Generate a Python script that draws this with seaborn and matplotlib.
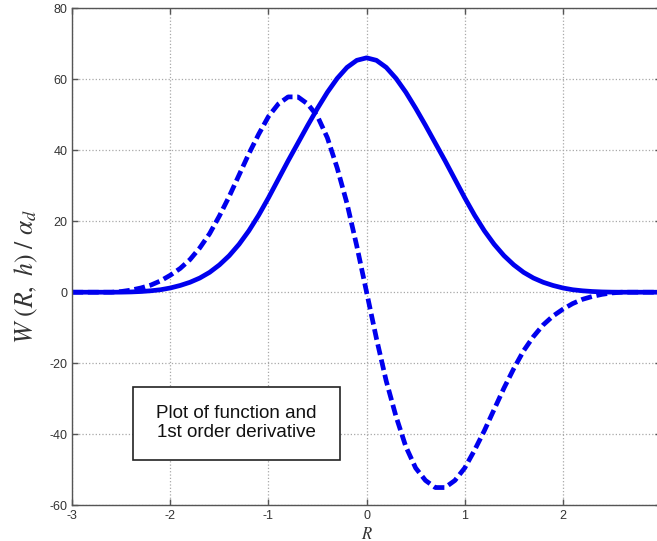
import numpy as np
import pandas as pd
import matplotlib
matplotlib.use('Agg')
import matplotlib.pyplot as plt
from matplotlib.patches import Rectangle
import seaborn as sns

# sample positions along R (read every 0.1)
r = [-3.0, -2.9, -2.8, -2.7, -2.6, -2.5, -2.4, -2.3, -2.2, -2.1,
     -2.0, -1.9, -1.8, -1.7, -1.6, -1.5, -1.4, -1.3, -1.2, -1.1,
     -1.0, -0.9, -0.8, -0.7, -0.6, -0.5, -0.4, -0.3, -0.2, -0.1,
     0.0, 0.1, 0.2, 0.3, 0.4, 0.5, 0.6, 0.7, 0.8, 0.9,
     1.0, 1.1, 1.2, 1.3, 1.4, 1.5, 1.6, 1.7, 1.8, 1.9,
     2.0, 2.1, 2.2, 2.3, 2.4, 2.5, 2.6, 2.7, 2.8, 2.9, 3.0]

# kernel W(R,h)/alpha_d, solid line
w_func = [0, 0, 0, 0, 0, 0.02, 0.08, 0.2, 0.4, 0.7,
          1.2, 1.9, 2.8, 4.0, 5.6, 7.7, 10.3, 13.5, 17.3, 21.7,
          26.6, 31.8, 37.0, 42.0, 47.0, 51.8, 56.3, 60.2, 63.3, 65.3,
          66, 65.3, 63.3, 60.2, 56.3, 51.8, 47.0, 42.0, 37.0, 31.8,
          26.6, 21.7, 17.3, 13.5, 10.3, 7.7, 5.6, 4.0, 2.8, 1.9,
          1.2, 0.7, 0.4, 0.2, 0.08, 0.02, 0, 0, 0, 0, 0]

# first order derivative, dashed line
w_deriv = [0, 0, 0, 0, 0, 0.2, 0.6, 1.2, 2.0, 3.2,
           4.8, 6.7, 9.2, 12.5, 16.5, 21.5, 27, 33, 39, 44.5,
           49.5, 53, 55, 55, 53, 49.5, 43.5, 35, 25, 13,
           0, -13, -25, -35, -43.5, -49.5, -53, -55, -55, -53,
           -49.5, -44.5, -39, -33, -27, -21.5, -16.5, -12.5, -9.2, -6.7,
           -4.8, -3.2, -2.0, -1.2, -0.6, -0.2, 0, 0, 0, 0, 0]

x_ticks = [-3, -2, -1, 0, 1, 2, 3]
y_ticks = [-60, -40, -20, 0, 20, 40, 60, 80]

df = pd.DataFrame({'R': r, 'W': w_func, 'dW': w_deriv})

sns.set_style('ticks')
plt.rcParams['font.family'] = ['Liberation Sans', 'DejaVu Sans']
plt.rcParams['mathtext.fontset'] = 'stix'
plt.rcParams['axes.unicode_minus'] = False

fig = plt.figure(figsize=(6.57, 5.41), dpi=100)
ax = fig.add_axes([0.110, 0.066, 0.896, 0.919])

blue = '#0000ee'
sns.lineplot(data=df, x='R', y='W', ax=ax, color=blue, lw=3.4,
             estimator=None, sort=False)
sns.lineplot(data=df, x='R', y='dW', ax=ax, color=blue, lw=3.4,
             estimator=None, sort=False, linestyle=(0, (2.3, 1.0)))

ax.set_xlim(-3, 3)
ax.set_ylim(-60, 80)
ax.set_xticks(x_ticks)
ax.set_yticks(y_ticks)
ax.grid(True, linestyle=':', color='#a8a8a8', linewidth=0.9)

ax.tick_params(direction='in', length=4, width=1, color='#555555',
               labelsize=9, labelcolor='#333333', top=True, right=True)
for s in ax.spines.values():
    s.set_color('#555555')
    s.set_linewidth(1.0)
    s.set_visible(True)

ax.set_xlabel(r'$R$', fontsize=12, labelpad=3, color='#333333')
ax.set_ylabel(r'$W\ (R,\ h)\ /\ \alpha_d$', fontsize=18.5, color='#333333')
ax.yaxis.set_label_coords(-0.055, 0.46)

# annotation box
ax.add_patch(Rectangle((0.103, 0.091), 0.352, 0.147, transform=ax.transAxes,
                       facecolor='white', edgecolor='#222222', lw=1.2,
                       zorder=5))
ax.text(0.2785, 0.1646, 'Plot of function and\n1st order derivative',
        transform=ax.transAxes, ha='center', va='center', fontsize=13.5,
        color='#111111', linespacing=1.15, zorder=6)

fig.savefig('out.png', dpi=100)
